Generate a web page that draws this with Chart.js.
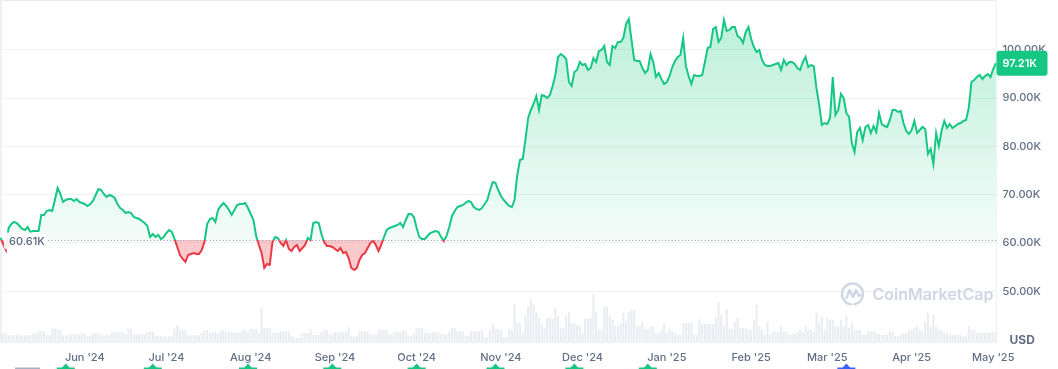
<!DOCTYPE html>
<html lang="en">
<head>
<meta charset="UTF-8">
<title>BTC price - 1Y</title>
<script src="https://cdn.jsdelivr.net/npm/chart.js"></script>
<style>
  html, body { margin: 0; padding: 0; background: #fff; }
  #wrap { width: 1058px; height: 369px; }
</style>
</head>
<body>
<div id="wrap"><canvas id="priceChart" width="1058" height="369"></canvas></div>
<script>
// one value per day, starting 1 May 2024 (index 0) - price in K USD
const prices = [
  61.04, 59.79, 58.55, 63.11, 63.93, 64.35, 64.14, 63.52, 62.90, 62.69,
  63.31, 62.28, 62.48, 62.48, 62.48, 65.80, 65.80, 66.63, 66.83, 66.63,
  68.90, 71.39, 70.15, 68.49, 68.90, 69.11, 69.11, 68.70, 69.11, 68.49,
  68.28, 68.07, 67.66, 68.07, 68.70, 69.94, 71.18, 70.97, 70.15, 69.52,
  69.94, 69.73, 69.32, 68.07, 67.25, 66.83, 66.21, 66.42, 66.21, 65.38,
  65.18, 64.97, 64.55, 64.14, 63.52, 61.24, 61.86, 61.24, 61.66, 60.83,
  61.24, 62.07, 62.69, 62.28, 60.83, 59.17, 57.52, 56.69, 56.07, 57.52,
  57.72, 57.93, 57.72, 57.72, 58.55, 60.21, 63.93, 64.97, 65.18, 64.35,
  66.83, 67.66, 68.28, 67.66, 66.83, 65.80, 66.83, 67.87, 68.07, 68.07,
  68.28, 67.25, 66.00, 64.76, 61.45, 59.59, 57.93, 54.82, 55.65, 55.45,
  60.21, 61.24, 61.04, 60.00, 59.38, 60.62, 58.76, 58.34, 59.17, 59.59,
  58.34, 58.96, 59.59, 61.04, 60.62, 64.14, 64.35, 64.14, 61.86, 60.21,
  59.38, 59.38, 59.17, 58.76, 58.34, 58.96, 57.93, 58.14, 56.89, 54.82,
  54.41, 54.82, 56.48, 57.52, 57.93, 58.96, 60.00, 60.41, 59.59, 58.34,
  59.59, 61.24, 62.69, 63.11, 63.31, 63.52, 63.73, 64.14, 63.31, 64.76,
  66.00, 66.00, 65.38, 63.11, 61.24, 60.83, 60.83, 61.45, 62.07, 62.28,
  62.48, 62.28, 61.24, 60.41, 61.45, 63.31, 65.59, 66.63, 67.45, 67.66,
  67.87, 68.28, 68.70, 68.49, 67.45, 67.04, 66.83, 67.25, 68.07, 68.90,
  70.97, 72.63, 72.42, 70.97, 69.73, 68.90, 68.28, 67.66, 67.45, 68.90,
  74.08, 77.18, 77.39, 81.33, 85.88, 87.54, 88.78, 90.43, 87.54, 90.64,
  90.43, 90.02, 90.64, 92.51, 94.78, 98.51, 99.13, 98.72, 98.10, 93.33,
  92.51, 95.40, 95.82, 97.47, 96.85, 97.06, 95.82, 96.23, 98.30, 97.47,
  99.75, 99.96, 100.79, 97.47, 96.85, 100.79, 100.37, 101.62, 101.62, 102.44,
  105.34, 106.38, 102.03, 97.89, 97.68, 97.68, 96.23, 95.20, 95.82, 99.13,
  97.47, 94.37, 95.20, 93.95, 92.92, 93.33, 94.58, 96.44, 97.68, 98.51,
  98.92, 102.44, 96.65, 94.58, 92.92, 94.78, 94.58, 94.58, 94.78, 97.47,
  100.37, 100.58, 104.31, 104.72, 101.62, 102.44, 106.17, 103.89, 104.10, 104.72,
  104.72, 102.86, 102.44, 101.41, 103.69, 104.72, 102.24, 100.58, 99.54, 99.96,
  97.89, 96.85, 96.65, 96.65, 96.85, 97.06, 97.27, 95.82, 97.89, 96.85,
  97.47, 97.47, 97.06, 96.23, 95.82, 97.47, 98.51, 96.44, 96.85, 96.65,
  92.09, 88.57, 84.43, 84.84, 84.64, 85.88, 94.37, 86.50, 87.54, 90.85,
  90.02, 86.92, 86.09, 80.70, 78.84, 82.98, 83.81, 81.33, 84.02, 84.43,
  82.77, 84.22, 82.98, 86.92, 84.64, 84.22, 84.02, 85.47, 87.54, 87.54,
  87.12, 87.33, 84.84, 83.19, 82.57, 83.40, 85.26, 82.77, 83.40, 84.02,
  83.60, 78.43, 79.46, 76.36, 82.77, 80.08, 83.19, 85.26, 83.81, 84.64,
  83.81, 84.22, 84.64, 84.84, 85.26, 85.47, 87.95, 93.33, 93.75, 94.37,
  94.78, 93.95, 94.58, 94.99, 94.37, 96.02, 97.21
];

// daily volume, billions USD
const volumes = [
  25.2, 25.2, 25.2, 18.8, 18.8, 18.8, 21.6, 21.6, 18.8, 18.8,
  18.8, 18.8, 23.2, 23.2, 30.0, 30.0, 30.0, 18.8, 18.8, 37.2,
  37.2, 34.4, 34.4, 18.8, 18.8, 21.6, 21.6, 21.6, 21.6, 23.2,
  23.2, 23.2, 16.0, 16.0, 25.2, 25.2, 25.2, 18.8, 18.8, 18.8,
  18.8, 28.0, 28.0, 28.0, 28.0, 28.0, 22.4, 37.2, 37.2, 21.6,
  21.6, 21.6, 21.6, 21.6, 28.0, 28.0, 28.0, 16.8, 16.0, 16.0,
  16.0, 16.0, 16.0, 16.0, 37.2, 46.8, 32.8, 32.8, 32.8, 18.8,
  18.8, 18.8, 18.8, 18.8, 25.2, 33.6, 33.6, 25.2, 25.2, 28.0,
  25.2, 34.4, 34.4, 27.2, 27.2, 27.2, 25.2, 25.2, 25.2, 34.4,
  34.4, 27.2, 36.4, 36.4, 36.4, 25.2, 95.2, 39.2, 39.2, 39.2,
  25.2, 25.2, 25.2, 30.0, 30.0, 30.0, 30.0, 16.8, 11.2, 11.2,
  11.2, 25.2, 25.2, 25.2, 36.4, 20.4, 20.4, 20.4, 28.0, 34.4,
  34.4, 20.4, 20.4, 27.2, 27.2, 27.2, 27.2, 27.2, 42.0, 16.0,
  16.0, 16.0, 30.0, 30.0, 30.0, 30.0, 22.4, 20.4, 20.4, 34.4,
  34.4, 34.4, 34.4, 20.4, 20.4, 27.2, 27.2, 27.2, 32.8, 32.8,
  17.6, 17.6, 22.4, 39.2, 39.2, 39.2, 25.2, 25.2, 25.2, 27.2,
  27.2, 27.2, 22.4, 20.4, 20.4, 28.0, 39.2, 39.2, 30.0, 30.0,
  30.0, 17.6, 17.6, 30.0, 30.0, 30.0, 30.0, 34.4, 14.0, 14.0,
  34.4, 50.4, 36.4, 36.4, 33.6, 14.0, 14.0, 34.4, 34.4, 106.4,
  53.2, 53.2, 25.2, 75.6, 100.8, 120.4, 106.4, 81.2, 67.2, 50.4,
  39.2, 67.2, 67.2, 64.4, 95.2, 72.0, 39.2, 39.2, 72.0, 83.2,
  53.2, 53.2, 45.6, 45.6, 25.2, 64.4, 64.4, 67.2, 135.2, 83.2,
  34.4, 34.4, 98.0, 98.0, 72.8, 62.4, 44.0, 44.0, 53.2, 81.2,
  58.0, 83.2, 90.4, 90.4, 44.0, 44.0, 55.2, 36.4, 36.4, 44.0,
  44.0, 25.2, 25.2, 33.6, 51.2, 25.2, 36.4, 30.0, 25.2, 20.4,
  20.4, 53.2, 53.2, 53.2, 53.2, 20.4, 20.4, 64.4, 51.2, 51.2,
  51.2, 51.2, 51.2, 70.0, 111.2, 76.4, 44.0, 92.4, 36.4, 36.4,
  56.0, 67.2, 39.2, 39.2, 39.2, 34.4, 34.4, 62.4, 104.4, 44.0,
  34.4, 20.4, 56.0, 20.4, 30.0, 30.0, 27.2, 44.0, 30.0, 30.0,
  20.4, 20.4, 22.4, 27.2, 34.4, 28.0, 44.0, 34.4, 34.4, 28.0,
  81.2, 58.0, 72.0, 34.4, 67.2, 62.4, 62.4, 44.0, 44.0, 62.4,
  44.0, 72.0, 39.2, 53.2, 32.8, 32.8, 32.8, 20.4, 20.4, 30.0,
  30.0, 30.0, 23.2, 22.4, 20.4, 20.4, 20.4, 30.0, 30.0, 17.6,
  17.6, 19.6, 25.2, 25.2, 34.4, 34.4, 39.2, 44.0, 33.6, 30.0,
  58.0, 81.2, 44.0, 76.4, 44.0, 34.4, 34.4, 25.2, 25.2, 20.4,
  20.4, 20.4, 20.4, 19.6, 16.0, 16.0, 44.0, 34.4, 34.4, 25.2,
  25.2, 25.2, 25.2, 25.2, 25.2, 27.2, 27.2
];

// day index of each month start + label
const monthDays = [31, 61, 92, 123, 153, 184, 214, 245, 276, 304, 335, 365];
const monthLabels = ["Jun '24", "Jul '24", "Aug '24", "Sep '24", "Oct '24", "Nov '24",
                     "Dec '24", "Jan '25", "Feb '25", "Mar '25", "Apr '25", "May '25"];
const priceTicks = [50, 60, 70, 80, 90, 100];

const openPrice = 60.61;
const lastPrice = 97.21;

// event flags under the axis
const eventDays = [24, 56, 91, 122, 153, 182, 211, 238];
const eventDaysBlue = [311];

const green = '#16c784';
const red = '#ea3943';
const axisText = '#616e85';
const gridColor = '#eff2f5';

function lineStroke(chart) {
  const area = chart.chartArea;
  if (!area) return green;
  const y0 = chart.scales.y.getPixelForValue(openPrice);
  const s = Math.min(1, Math.max(0, (y0 - area.top) / (area.bottom - area.top)));
  const g = chart.ctx.createLinearGradient(0, area.top, 0, area.bottom);
  g.addColorStop(0, green);
  g.addColorStop(s, green);
  g.addColorStop(s, red);
  g.addColorStop(1, red);
  return g;
}

function greenFill(chart) {
  const area = chart.chartArea;
  if (!area) return 'rgba(22,199,132,0.15)';
  const y0 = chart.scales.y.getPixelForValue(openPrice);
  const g = chart.ctx.createLinearGradient(0, area.top, 0, y0);
  g.addColorStop(0, 'rgba(22,199,132,0.30)');
  g.addColorStop(1, 'rgba(22,199,132,0.05)');
  return g;
}

const framePlugin = {
  id: 'frame',
  beforeDraw(chart) {
    const {ctx, chartArea: a} = chart;
    ctx.save();
    ctx.strokeStyle = '#e9ecf0';
    ctx.lineWidth = 1.5;
    ctx.beginPath();
    ctx.moveTo(a.left + 1, a.bottom);
    ctx.lineTo(a.left + 1, a.top - 0.5);
    ctx.lineTo(a.right, a.top - 0.5);
    ctx.stroke();
    ctx.restore();
  }
};

const watermarkPlugin = {
  id: 'watermark',
  beforeDatasetsDraw(chart) {
    const {ctx, chartArea: a} = chart;
    const cx = a.right - 144, cy = a.bottom - 48;
    ctx.save();
    ctx.strokeStyle = '#cfd6e4';
    ctx.fillStyle = '#cfd6e4';
    ctx.lineWidth = 2.4;
    ctx.lineJoin = 'round';
    ctx.lineCap = 'round';
    ctx.beginPath();
    ctx.arc(cx, cy, 10.5, Math.PI * 0.55, Math.PI * 2.45);
    ctx.stroke();
    ctx.beginPath();
    ctx.moveTo(cx - 6, cy + 4);
    ctx.lineTo(cx - 3, cy - 4);
    ctx.lineTo(cx + 0.5, cy + 3);
    ctx.lineTo(cx + 3.5, cy - 4);
    ctx.lineTo(cx + 6.5, cy + 2);
    ctx.lineTo(cx + 9, cy + 1);
    ctx.stroke();
    ctx.font = '600 16px Inter';
    ctx.textBaseline = 'middle';
    ctx.textAlign = 'left';
    ctx.fillText('CoinMarketCap', cx + 20, cy + 1);
    ctx.restore();
  }
};

const baselinePlugin = {
  id: 'baseline',
  afterDatasetsDraw(chart) {
    const {ctx, chartArea: a} = chart;
    const y0 = Math.round(chart.scales.y.getPixelForValue(openPrice)) + 0.5;
    ctx.save();
    ctx.strokeStyle = '#8f99ab';
    ctx.lineWidth = 1;
    ctx.setLineDash([1, 2.3]);
    ctx.beginPath();
    ctx.moveTo(a.left + 48, y0);
    ctx.lineTo(a.right, y0);
    ctx.stroke();
    ctx.setLineDash([]);
    ctx.fillStyle = 'rgba(255,255,255,0.9)';
    ctx.beginPath();
    ctx.roundRect(a.left + 4, y0 - 8, 43, 17, 3);
    ctx.fill();
    ctx.fillStyle = '#58667e';
    ctx.font = '500 11px Inter';
    ctx.textBaseline = 'middle';
    ctx.textAlign = 'left';
    ctx.fillText(openPrice.toFixed(2) + 'K', a.left + 9, y0 + 1.5);
    ctx.restore();
  }
};

const overlayPlugin = {
  id: 'overlay',
  afterDraw(chart) {
    const {ctx, chartArea: a} = chart;
    const x = chart.scales.x;
    ctx.save();
    // last price badge
    const yl = chart.scales.y.getPixelForValue(lastPrice);
    ctx.fillStyle = green;
    ctx.beginPath();
    ctx.roundRect(a.right, yl - 12.5, 51, 25, 3);
    ctx.fill();
    ctx.fillStyle = '#ffffff';
    ctx.font = '600 11px Inter';
    ctx.textBaseline = 'middle';
    ctx.textAlign = 'left';
    ctx.fillText(lastPrice.toFixed(2) + 'K', a.right + 6, yl + 0.5);
    // currency
    ctx.fillStyle = axisText;
    ctx.font = '700 12px Inter';
    ctx.fillText('USD', a.right + 13, a.bottom - 2);
    // event flags
    const h = chart.height;
    const flag = (d, col) => {
      const px = x.getPixelForValue(d);
      ctx.fillStyle = col;
      ctx.beginPath();
      ctx.moveTo(px, h - 5.5);
      ctx.lineTo(px + 5, h);
      ctx.lineTo(px - 5, h);
      ctx.closePath();
      ctx.fill();
      ctx.fillRect(px - 9, h - 1.5, 18, 1.5);
    };
    eventDays.forEach(d => flag(d, green));
    eventDaysBlue.forEach(d => flag(d, '#3861fb'));
    ctx.fillStyle = '#a6b0c3';
    ctx.fillRect(a.left + 15, h - 1.5, 25, 1.5);
    ctx.restore();
  }
};

const ctx = document.getElementById('priceChart').getContext('2d');
new Chart(ctx, {
  type: 'line',
  data: {
    datasets: [
      {
        type: 'line',
        label: 'Price',
        data: prices.map((p, i) => ({x: i, y: p})),
        xAxisID: 'x',
        yAxisID: 'y',
        borderWidth: 2,
        pointRadius: 0,
        tension: 0,
        borderColor: c => lineStroke(c.chart),
        backgroundColor: c => greenFill(c.chart),
        fill: {target: {value: openPrice}, below: 'rgba(234,57,67,0.27)'},
        order: 1
      },
      {
        type: 'bar',
        label: 'Volume',
        data: volumes.map((v, i) => ({x: i, y: v})),
        xAxisID: 'x',
        yAxisID: 'yv',
        backgroundColor: '#e9ecf1',
        barPercentage: 0.75,
        categoryPercentage: 1,
        order: 2
      }
    ]
  },
  options: {
    responsive: false,
    animation: false,
    events: [],
    layout: {padding: {top: 1, left: 0, right: 0, bottom: 0}},
    plugins: {legend: {display: false}, tooltip: {enabled: false}},
    scales: {
      x: {
        type: 'linear',
        min: -0.18,
        max: 366.2,
        offset: false,
        afterBuildTicks: s => { s.ticks = monthDays.map(v => ({value: v})); },
        afterFit: s => { s.height = 27; s.paddingLeft = 0; s.paddingRight = 0; },
        grid: {display: false, drawTicks: false},
        border: {display: true, color: gridColor},
        ticks: {
          autoSkip: false,
          maxRotation: 0,
          padding: 9,
          color: axisText,
          font: {family: 'Inter', size: 11, weight: '500'},
          callback: (v, i) => monthLabels[i]
        }
      },
      y: {
        position: 'right',
        min: 39.5,
        max: 110.1,
        afterBuildTicks: s => { s.ticks = priceTicks.map(v => ({value: v})); },
        afterFit: s => { s.width = 61.5; s.paddingTop = 0; s.paddingBottom = 0; },
        grid: {color: gridColor, drawTicks: false},
        border: {display: true, color: gridColor},
        ticks: {
          padding: 6,
          color: axisText,
          font: {family: 'Inter', size: 11, weight: '500'},
          callback: v => v.toFixed(2) + 'K'
        }
      },
      yv: {
        display: false,
        min: 0,
        max: 955
      }
    }
  },
  plugins: [framePlugin, watermarkPlugin, baselinePlugin, overlayPlugin]
});
</script>
</body>
</html>
